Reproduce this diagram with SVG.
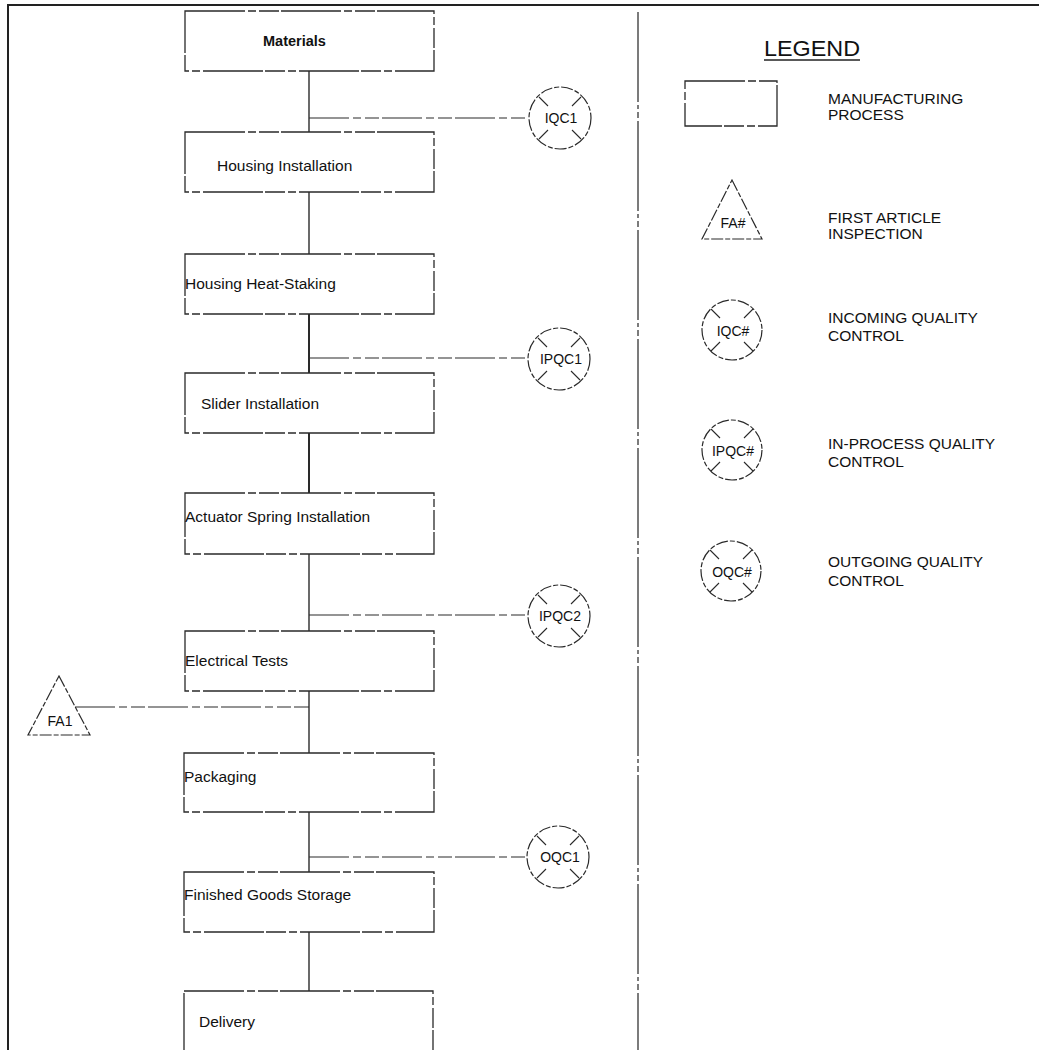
<svg xmlns="http://www.w3.org/2000/svg" width="1039" height="1050" viewBox="0 0 1039 1050">
<style>
  .box { fill: #fff; stroke: #2a2a2a; stroke-width: 1.3; stroke-dasharray: 60 3 8 3 20 2; }
  .lbl { font-family: "Liberation Sans", Arial, sans-serif; font-size: 15.5px; fill: #111; }
  .bold { font-weight: bold; font-size: 14.5px; }
  .conn { stroke: #2a2a2a; stroke-width: 1.4; fill: none; }
  .thick { stroke-width: 2; }
  .branch { stroke: #2a2a2a; stroke-width: 1.2; fill: none; stroke-dasharray: 40 4 8 4 14 3; }
  .qc { fill: #fff; stroke: #2a2a2a; stroke-width: 1.2; stroke-dasharray: 12 2 5 2; }
  .tick { stroke: #2a2a2a; stroke-width: 1.1; }
  .qctxt { font-family: "Liberation Sans", Arial, sans-serif; font-size: 14px; fill: #111; text-anchor: middle; }
  .leg { font-family: "Liberation Sans", Arial, sans-serif; font-size: 15.5px; fill: #111; }
  .frame { stroke: #222; stroke-width: 2; fill: none; }
  .divider { stroke: #444; stroke-width: 1.4; fill: none; stroke-dasharray: 90 3 4 3 6 3; }
</style>
<defs>
  <g id="xmark">
    <line class="tick" x1="-21" y1="-21" x2="-12" y2="-12"/>
    <line class="tick" x1="21" y1="-21" x2="12" y2="-12"/>
    <line class="tick" x1="-21" y1="21" x2="-12" y2="12"/>
    <line class="tick" x1="21" y1="21" x2="12" y2="12"/>
  </g>
</defs>
<rect width="1039" height="1050" fill="#fff"/>

<g id="frame">
  <line class="frame" x1="8" y1="5" x2="1039" y2="5"/>
  <line class="frame" x1="8" y1="4" x2="8" y2="1050"/>
  <line class="divider" x1="638" y1="12" x2="638" y2="1050"/>
</g>

<g id="connectors">
  <line class="conn" x1="309" y1="71" x2="309" y2="132"/>
  <line class="conn" x1="309" y1="192" x2="309" y2="254"/>
  <line class="conn thick" x1="309" y1="314" x2="309" y2="373"/>
  <line class="conn thick" x1="309" y1="433" x2="309" y2="493"/>
  <line class="conn" x1="309" y1="554" x2="309" y2="631"/>
  <line class="conn" x1="309" y1="691" x2="309" y2="753"/>
  <line class="conn" x1="309" y1="812" x2="309" y2="872"/>
  <line class="conn" x1="309" y1="932" x2="309" y2="991"/>
  <line class="branch" x1="309" y1="118" x2="528" y2="118"/>
  <line class="branch" x1="309" y1="358" x2="527" y2="358"/>
  <line class="branch" x1="309" y1="615" x2="528" y2="615"/>
  <line class="branch" x1="75" y1="707" x2="309" y2="707"/>
  <line class="branch" x1="309" y1="857" x2="527" y2="857"/>
</g>

<g id="materials"><rect class="box" x="185" y="11" width="249" height="60"/><text class="lbl bold" x="263" y="46">Materials</text></g>
<g id="housing-installation"><rect class="box" x="185" y="132" width="249" height="60"/><text class="lbl" x="217" y="171">Housing Installation</text></g>
<g id="housing-heat-staking"><rect class="box" x="185" y="254" width="249" height="60"/><text class="lbl" x="185" y="289">Housing Heat-Staking</text></g>
<g id="slider-installation"><rect class="box" x="185" y="373" width="249" height="60"/><text class="lbl" x="201" y="409">Slider Installation</text></g>
<g id="actuator-spring-installation"><rect class="box" x="185" y="493" width="249" height="61"/><text class="lbl" x="185" y="522">Actuator Spring Installation</text></g>
<g id="electrical-tests"><rect class="box" x="185" y="631" width="249" height="60"/><text class="lbl" x="185" y="666">Electrical Tests</text></g>
<g id="packaging"><rect class="box" x="184" y="753" width="250" height="59"/><text class="lbl" x="184" y="782">Packaging</text></g>
<g id="finished-goods-storage"><rect class="box" x="184" y="872" width="250" height="60"/><text class="lbl" x="184" y="900">Finished Goods Storage</text></g>
<g id="delivery"><rect class="box" x="184" y="991" width="249" height="70"/><text class="lbl" x="199" y="1027">Delivery</text></g>

<g id="iqc1"><circle class="qc" cx="560" cy="118" r="31"/><use href="#xmark" x="560" y="118"/><text class="qctxt" x="561" y="123">IQC1</text></g>
<g id="ipqc1"><circle class="qc" cx="559" cy="359" r="31"/><use href="#xmark" x="559" y="359"/><text class="qctxt" x="561" y="364">IPQC1</text></g>
<g id="ipqc2"><circle class="qc" cx="559" cy="616" r="31"/><use href="#xmark" x="559" y="616"/><text class="qctxt" x="560" y="621">IPQC2</text></g>
<g id="oqc1"><circle class="qc" cx="558" cy="857" r="31"/><use href="#xmark" x="558" y="857"/><text class="qctxt" x="560" y="862">OQC1</text></g>
<g id="fa1"><polygon class="qc" points="59,676 90,735 28,735"/><text class="qctxt" x="60" y="726">FA1</text></g>

<g id="legend">
  <text x="764" y="56" font-family="Liberation Sans, Arial, sans-serif" font-size="22" fill="#111" textLength="96" lengthAdjust="spacingAndGlyphs">LEGEND</text>
  <line x1="764" y1="60" x2="860" y2="60" stroke="#222" stroke-width="1.5"/>
  <g id="legend-process"><rect class="box" x="685" y="81" width="92" height="45"/>
    <text class="leg" x="828" y="104">MANUFACTURING</text><text class="leg" x="828" y="120">PROCESS</text></g>
  <g id="legend-fa"><polygon class="qc" points="732,180 762,239 702,239"/><text class="qctxt" x="733" y="228">FA#</text>
    <text class="leg" x="828" y="223">FIRST ARTICLE</text><text class="leg" x="828" y="239">INSPECTION</text></g>
  <g id="legend-iqc"><circle class="qc" cx="732" cy="330" r="30"/><use href="#xmark" x="732" y="330"/><text class="qctxt" x="733" y="336">IQC#</text>
    <text class="leg" x="828" y="323">INCOMING QUALITY</text><text class="leg" x="828" y="341">CONTROL</text></g>
  <g id="legend-ipqc"><circle class="qc" cx="732" cy="450" r="30"/><use href="#xmark" x="732" y="450"/><text class="qctxt" x="733" y="456">IPQC#</text>
    <text class="leg" x="828" y="449">IN-PROCESS QUALITY</text><text class="leg" x="828" y="467">CONTROL</text></g>
  <g id="legend-oqc"><circle class="qc" cx="731" cy="571" r="30"/><use href="#xmark" x="731" y="571"/><text class="qctxt" x="732" y="577">OQC#</text>
    <text class="leg" x="828" y="567">OUTGOING QUALITY</text><text class="leg" x="828" y="586">CONTROL</text></g>
</g>
</svg>
